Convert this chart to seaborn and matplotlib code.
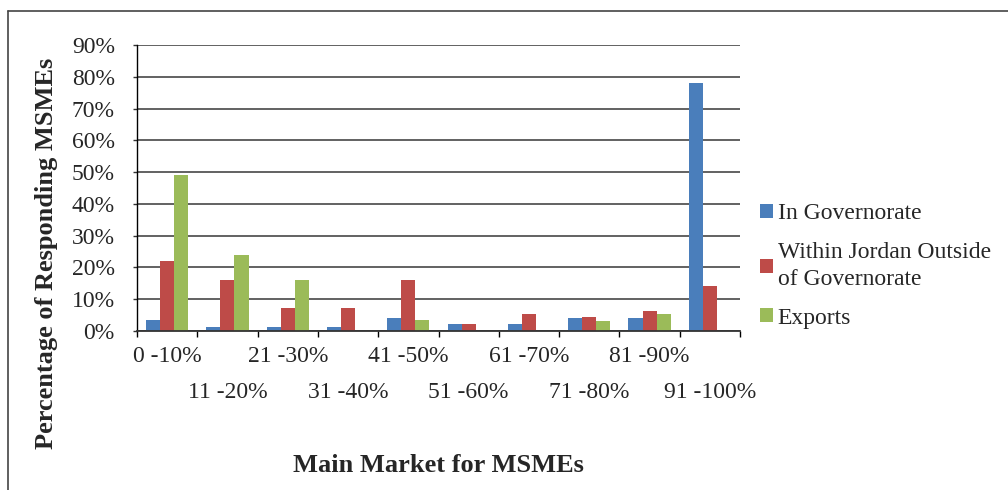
import numpy as np
import pandas as pd
import seaborn as sns
import matplotlib.pyplot as plt
from matplotlib.lines import Line2D
from matplotlib.ticker import PercentFormatter, FixedLocator

# data (percent of responding MSMEs)
ranges = ['0 -10%', '11 -20%', '21 -30%', '31 -40%', '41 -50%',
          '51 -60%', '61 -70%', '71 -80%', '81 -90%', '91 -100%']
in_governorate = [3.5, 1.2, 1.2, 1.2, 4.1, 2.2, 2.2, 4.1, 4.1, 78.0]
within_jordan = [22.0, 16.2, 7.2, 7.2, 16.2, 2.2, 5.3, 4.4, 6.3, 14.2]
exports = [49.0, 24.0, 16.2, 0.0, 3.5, 0.0, 0.0, 3.2, 5.3, 0.0]
series_names = ['In Governorate', 'Within Jordan Outside\nof Governorate', 'Exports']
colors = ['#4A7EBB', '#BE4B48', '#9BBB59']

df = pd.DataFrame({
    'range': ranges * 3,
    'value': in_governorate + within_jordan + exports,
    'market': np.repeat(series_names, len(ranges)),
})

sns.set_style('white')
plt.rcParams['font.family'] = ['Liberation Serif', 'DejaVu Serif']

fig = plt.figure(figsize=(10.08, 4.9), dpi=100)
ax = fig.add_axes([137 / 1008, 1 - 331 / 490, (740 - 137) / 1008, (331 - 45) / 490])

sns.barplot(data=df, x='range', y='value', hue='market', order=ranges,
            hue_order=series_names, palette=colors, saturation=1,
            width=0.7, linewidth=0, edgecolor='none', ax=ax, legend=True)

ax.set_ylim(0, 90)
ax.set_yticks(np.arange(0, 91, 10))
ax.yaxis.set_major_formatter(PercentFormatter(xmax=100, decimals=0))
ax.set_xlim(-0.5, len(ranges) - 0.5)
ax.set_axisbelow(True)
ax.grid(axis='y', color='#555555', linewidth=1.3)
ax.grid(axis='x', visible=False)

for side in ['top', 'right']:
    ax.spines[side].set_visible(False)
ax.spines['left'].set_color('black')
ax.spines['left'].set_linewidth(1.0)
ax.spines['bottom'].set_color('#333333')
ax.spines['bottom'].set_linewidth(1.3)

ax.tick_params(axis='y', which='major', direction='out', length=3, width=1.0,
               color='#333333', labelsize=17, pad=13, left=True)
ax.tick_params(axis='x', which='major', length=0, labelsize=17, pad=11)
ax.xaxis.set_minor_locator(FixedLocator(np.arange(-0.5, len(ranges), 1.0)))
ax.tick_params(axis='x', which='minor', direction='out', length=4, width=1.0,
               color='black', bottom=True)
for i, tick in enumerate(ax.xaxis.get_major_ticks()):
    if i % 2 == 1:
        tick.set_pad(37)
ax.set_xlabel('')
ax.set_ylabel('')

handles, labels = ax.get_legend_handles_labels()
leg = ax.legend(handles, labels, loc='center left', frameon=False,
                bbox_to_anchor=(760 / 1008, 1 - 266 / 490), bbox_transform=fig.transFigure,
                fontsize=17, handlelength=0.55, handleheight=0.55, handletextpad=0.2,
                labelspacing=0.75, borderpad=0, borderaxespad=0)
for t in leg.get_texts():
    t.set_linespacing(1.35)

fig.text(438 / 1008, 1 - 472 / 490, 'Main Market for MSMEs', ha='center',
         va='baseline', fontsize=19, fontweight='bold')
fig.text(47 / 1008, 1 - 253 / 490, 'Percentage of Responding MSMEs', ha='center',
         va='center', rotation=90, fontsize=19, fontweight='bold')

# outer frame (only top and left edges are visible in the original)
fig.add_artist(Line2D([8 / 1008, 1], [1 - 11 / 490, 1 - 11 / 490], color='#444444', lw=1.2))
fig.add_artist(Line2D([8 / 1008, 8 / 1008], [0, 1 - 11 / 490], color='#444444', lw=1.2))

fig.savefig('out.png', dpi=100)
plt.close(fig)
